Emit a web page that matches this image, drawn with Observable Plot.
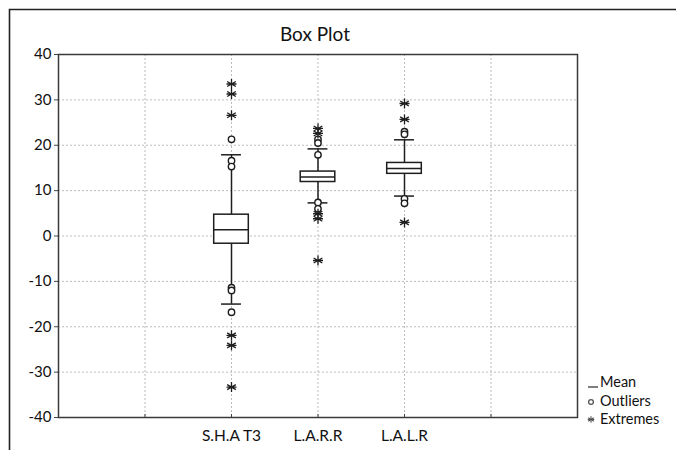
<!DOCTYPE html>
<html>
<head>
<meta charset="utf-8">
<script src="https://cdn.jsdelivr.net/npm/d3@7"></script>
<script src="https://cdn.jsdelivr.net/npm/@observablehq/plot@0.6"></script>
<style>
  html, body { margin: 0; padding: 0; background: #ffffff; }
  #wrap { position: relative; width: 676px; height: 450px; overflow: hidden; font-family: Lato, "Open Sans", sans-serif; }
  #chart { position: absolute; left: 0; top: 0; }
  #overlay { position: absolute; left: 0; top: 0; pointer-events: none; }
</style>
</head>
<body>
<div id="wrap">
  <div id="chart"></div>
  <svg id="overlay" width="676" height="450"></svg>
</div>
<script>
// ---- data ----
const categories = ["S.H.A T3", "L.A.R.R", "L.A.L.R"];
const boxLow = [-1.7, 11.9, 13.7];
const boxHigh = [4.7, 14.2, 16.1];
const means = [1.4, 13.0, 14.9];
const whiskerLow = [-15.0, 7.3, 8.8];
const whiskerHigh = [17.9, 19.2, 21.2];
const outlierValues = [
  [21.3, 16.6, 15.3, -11.4, -12.0, -16.8],
  [21.3, 20.5, 17.9, 7.4, 6.0],
  [23.0, 22.4, 8.2, 7.2]
];
const extremeValues = [
  [33.5, 31.3, 26.6, -21.9, -24.1, -33.3],
  [23.7, 22.6, 4.9, 3.8, -5.4],
  [29.2, 25.7, 3.0]
];
const yTicks = [-40, -30, -20, -10, 0, 10, 20, 30, 40];
const slotCount = 6;              // x axis runs over 6 equal slots
const firstCategorySlot = 2;      // categories sit on slots 2,3,4
const titleText = "Box Plot";
const legendLabels = ["Mean", "Outliers", "Extremes"];

// ---- derived tables ----
const rows = categories.map((c, i) => ({
  c, pos: i + firstCategorySlot,
  lo: boxLow[i], hi: boxHigh[i], mean: means[i],
  wl: whiskerLow[i], wh: whiskerHigh[i]
}));
const outliers = outlierValues.flatMap((vs, i) => vs.map(v => ({pos: i + firstCategorySlot, v})));
const extremes = extremeValues.flatMap((vs, i) => vs.map(v => ({pos: i + firstCategorySlot, v})));
const gridSlots = d3.range(1, slotCount);

const boxHalf = 0.2, capHalf = 0.115;

// asterisk with a horizontal bar (Statistica "extreme" glyph)
const starSymbol = {
  draw(ctx, size) {
    const r = Math.sqrt(size / Math.PI);
    for (const a of [90, 30, 150, 0]) {
      const t = a * Math.PI / 180;
      const dx = Math.cos(t) * r, dy = Math.sin(t) * r;
      ctx.moveTo(-dx, -dy);
      ctx.lineTo(dx, dy);
    }
  }
};

const ink = "#1e1e1e";
const chart = Plot.plot({
  width: 676,
  height: 450,
  marginLeft: 58,
  marginRight: 99,
  marginTop: 54,
  marginBottom: 33,
  x: {domain: [0, slotCount], axis: null},
  y: {domain: [-40, 40], axis: null},
  style: {fontFamily: "Lato, 'Open Sans', sans-serif", background: "transparent", color: "#111"},
  marks: [
    Plot.ruleY(yTicks.slice(1, -1), {stroke: "#b4b4b4", strokeDasharray: "2,2", strokeWidth: 0.9}),
    Plot.ruleX(gridSlots, {stroke: "#b4b4b4", strokeDasharray: "2,2", strokeWidth: 0.9}),
    Plot.ruleX(rows, {x: "pos", y1: "wl", y2: "lo", stroke: ink, strokeWidth: 1.5}),
    Plot.ruleX(rows, {x: "pos", y1: "hi", y2: "wh", stroke: ink, strokeWidth: 1.5}),
    Plot.ruleY(rows, {y: "wl", x1: d => d.pos - capHalf, x2: d => d.pos + capHalf, stroke: ink, strokeWidth: 1.5}),
    Plot.ruleY(rows, {y: "wh", x1: d => d.pos - capHalf, x2: d => d.pos + capHalf, stroke: ink, strokeWidth: 1.5}),
    Plot.rect(rows, {x1: d => d.pos - boxHalf, x2: d => d.pos + boxHalf, y1: "lo", y2: "hi", fill: "white", stroke: ink, strokeWidth: 1.5}),
    Plot.ruleY(rows, {y: "mean", x1: d => d.pos - boxHalf, x2: d => d.pos + boxHalf, stroke: ink, strokeWidth: 1.5}),
    Plot.dot(outliers, {x: "pos", y: "v", r: 3.2, fill: "white", stroke: ink, strokeWidth: 1.4}),
    Plot.dot(extremes, {x: "pos", y: "v", symbol: starSymbol, r: 5, stroke: ink, strokeWidth: 1.3}),
    Plot.axisY(yTicks, {tickSize: 4, tickPadding: 3, fontSize: 15, label: null, stroke: "#444",
      tickFormat: d => String(d)}),
    Plot.axisX(gridSlots, {tickSize: -3, tickFormat: () => "", label: null, stroke: "#444"}),
    Plot.axisX(rows.map(d => d.pos), {tickSize: 0, tickPadding: 12, fontSize: 15.5, label: null,
      tickFormat: p => categories[p - firstCategorySlot]}),
    Plot.frame({stroke: "#3a3a3a", strokeWidth: 1.5})
  ]
});
document.getElementById("chart").appendChild(chart);

// ---- overlay: outer frame, title, legend ----
const ov = d3.select("#overlay");
ov.append("path").attr("d", "M9.5,450V9.5H676").attr("fill", "none").attr("stroke", "#222").attr("stroke-width", 1.6);
ov.append("rect").attr("x", 262).attr("y", 15).attr("width", 106).attr("height", 36).attr("fill", "white");
ov.append("text").attr("x", 315).attr("y", 41).attr("text-anchor", "middle")
  .attr("font-size", 19).attr("fill", "#111").attr("font-family", "Lato, 'Open Sans', sans-serif").text(titleText);

const lg = ov.append("g").attr("font-family", "Lato, 'Open Sans', sans-serif").attr("font-size", 14.5).attr("fill", "#111");
const baseY = [387, 406, 424];
legendLabels.forEach((lab, i) => {
  lg.append("text").attr("x", 600).attr("y", baseY[i]).text(lab);
});
lg.append("line").attr("x1", 588).attr("x2", 598).attr("y1", 387).attr("y2", 387).attr("stroke", "#555").attr("stroke-width", 1.5);
lg.append("circle").attr("cx", 591).attr("cy", 402).attr("r", 2.4).attr("fill", "white").attr("stroke", "#555").attr("stroke-width", 1.3);
const sg = lg.append("g").attr("transform", "translate(591,419.5)").attr("stroke", "#555").attr("stroke-width", 1.1);
[90, 30, 150, 0].forEach(a => {
  const t = a * Math.PI / 180, r = 3.3;
  sg.append("line").attr("x1", -Math.cos(t) * r).attr("y1", -Math.sin(t) * r).attr("x2", Math.cos(t) * r).attr("y2", Math.sin(t) * r);
});
</script>
</body>
</html>
